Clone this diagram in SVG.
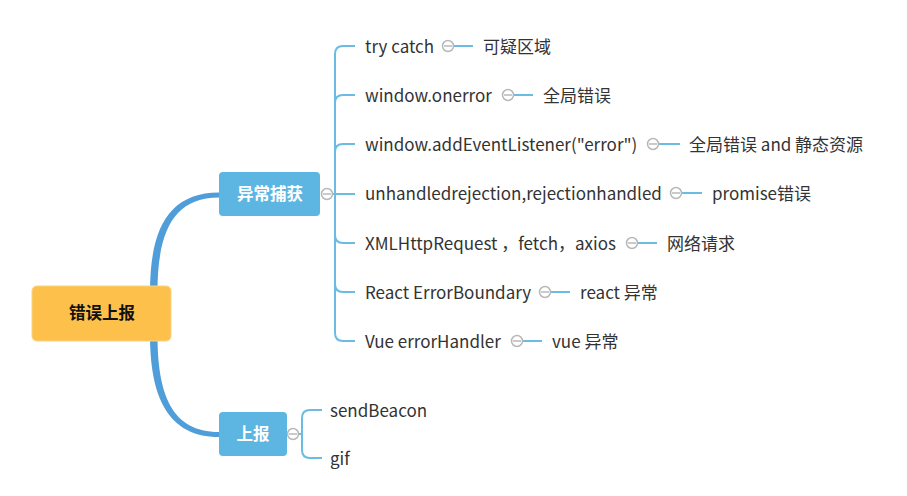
<svg xmlns="http://www.w3.org/2000/svg" width="907" height="496" viewBox="0 0 907 496">
<style>
text{font-family:"Noto Sans CJK SC","Noto Sans",sans-serif;font-size:17px;fill:#333}
.lbl{dominant-baseline:central}
.node{fill:#5DB6E1}
.nt{font-size:16.5px;fill:#fff;font-weight:bold;text-anchor:middle;dominant-baseline:central}
.thin{fill:none;stroke:#6BBCE3;stroke-width:2}
.thick{fill:#4F9DD9}
.col{fill:#fff;stroke:#B8B8B8;stroke-width:1.5}
.colm{stroke:#B8B8B8;stroke-width:1.5}
</style>
<defs>
<g id="collapse"><circle class="col" r="5.5"/><line class="colm" x1="-4" y1="0" x2="4" y2="0"/></g>
</defs>
<rect width="907" height="496" fill="#fff"/>
<g id="connectors">
<path class="thick" d="M150,292 C150,230 168,192.5 219,192.5 L219,197.5 C172,197.5 157.5,234 157.5,292 Z"/>
<path class="thick" d="M150,335 C150,397 168,437 219,437 L219,432 C172,432 157.5,395 157.5,335 Z"/>
<path class="thin" d="M332,194 L335,194"/>
<path class="thin" d="M335,194 L335,54 Q335,46 343,46 L355,46"/>
<path class="thin" d="M335,194 L335,103 Q335,95 343,95 L355,95"/>
<path class="thin" d="M335,194 L335,152 Q335,144 343,144 L355,144"/>
<path class="thin" d="M335,194 L355,194"/>
<path class="thin" d="M335,194 L335,235 Q335,243 343,243 L355,243"/>
<path class="thin" d="M335,194 L335,284 Q335,292 343,292 L355,292"/>
<path class="thin" d="M335,194 L335,333 Q335,341 343,341 L355,341"/>
<path class="thin" d="M453,46 L473,46"/>
<path class="thin" d="M513,95 L533,95"/>
<path class="thin" d="M658,144 L680,144"/>
<path class="thin" d="M681,193 L702,193"/>
<path class="thin" d="M637,243 L657,243"/>
<path class="thin" d="M550,292 L570,292"/>
<path class="thin" d="M522,341 L542,341"/>
<path class="thin" d="M298,434 L302,434"/>
<path class="thin" d="M302,434 L302,418 Q302,410 310,410 L322,410"/>
<path class="thin" d="M302,434 L302,450 Q302,458 310,458 L322,458"/>
</g>
<g id="root">
<rect x="32" y="286" width="139" height="55" rx="5" fill="#FCC04B" stroke="#FCD37E" stroke-width="1"/>
<text x="102" y="312" class="nt" style="fill:#111">错误上报</text>
</g>
<g id="catch">
<rect class="node" x="219" y="172" width="101" height="44" rx="4"/>
<text x="270" y="193" class="nt">异常捕获</text>
<use href="#collapse" x="327" y="194"/>
</g>
<g id="report">
<rect class="node" x="219" y="412" width="68" height="44" rx="4"/>
<text x="253" y="433" class="nt">上报</text>
<use href="#collapse" x="293" y="434"/>
</g>
<g id="c1"><text x="365" y="45" class="lbl">try catch</text><use href="#collapse" x="448" y="46"/></g>
<g id="c1a"><text x="483" y="45" class="lbl">可疑区域</text></g>
<g id="c2"><text x="365" y="94" class="lbl">window.onerror</text><use href="#collapse" x="508" y="95"/></g>
<g id="c2a"><text x="543" y="94" class="lbl">全局错误</text></g>
<g id="c3"><text x="365" y="143" class="lbl">window.addEventListener("error")</text><use href="#collapse" x="653" y="144"/></g>
<g id="c3a"><text x="689" y="143" class="lbl">全局错误 and 静态资源</text></g>
<g id="c4"><text x="365" y="192" class="lbl">unhandledrejection,rejectionhandled</text><use href="#collapse" x="676" y="193"/></g>
<g id="c4a"><text x="712" y="192" class="lbl">promise错误</text></g>
<g id="c5"><text x="365" y="242" class="lbl">XMLHttpRequest ，fetch，axios</text><use href="#collapse" x="632" y="243"/></g>
<g id="c5a"><text x="667" y="242" class="lbl">网络请求</text></g>
<g id="c6"><text x="365" y="291" class="lbl">React ErrorBoundary</text><use href="#collapse" x="545" y="292"/></g>
<g id="c6a"><text x="580" y="291" class="lbl">react 异常</text></g>
<g id="c7"><text x="365" y="340" class="lbl">Vue errorHandler</text><use href="#collapse" x="517" y="341"/></g>
<g id="c7a"><text x="552" y="340" class="lbl">vue 异常</text></g>
<g id="r1"><text x="330" y="409" class="lbl">sendBeacon</text></g>
<g id="r2"><text x="330" y="457" class="lbl">gif</text></g>
</svg>
